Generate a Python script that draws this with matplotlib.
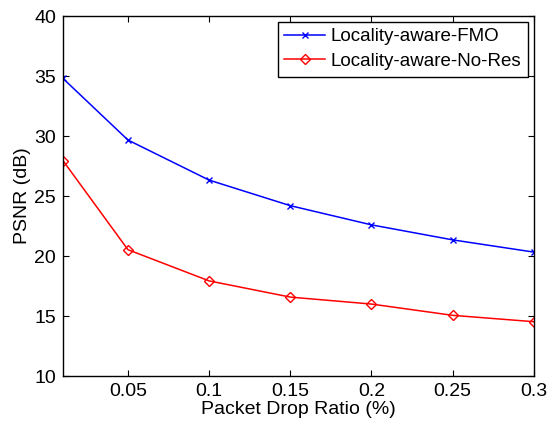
import matplotlib
matplotlib.use('Agg')
import matplotlib.pyplot as plt

plt.rcParams['font.family'] = ['Liberation Sans', 'DejaVu Sans']

drop_ratio = [0.01, 0.05, 0.1, 0.15, 0.2, 0.25, 0.3]
psnr_fmo = [34.8, 29.67, 26.33, 24.2, 22.6, 21.35, 20.33]
psnr_nores = [27.95, 20.53, 17.93, 16.58, 16.0, 15.06, 14.53]

fig = plt.figure(figsize=(5.48, 4.23), dpi=100)
ax = fig.add_axes([0.115, 0.111, 0.859, 0.851])

ax.plot(drop_ratio, psnr_fmo, color='blue', marker='x', markersize=5, linewidth=1.1,
        label='Locality-aware-FMO')
ax.plot(drop_ratio, psnr_nores, color='red', marker='D', markersize=5, linewidth=1.1,
        markerfacecolor='none', label='Locality-aware-No-Res')

ax.set_xlim(0.01, 0.3)
ax.set_ylim(10, 40)
ax.set_xticks([0.05, 0.1, 0.15, 0.2, 0.25, 0.3])
ax.set_xticklabels(['0.05', '0.1', '0.15', '0.2', '0.25', '0.3'])
ax.set_yticks([10, 15, 20, 25, 30, 35, 40])
ax.tick_params(direction='in', top=True, right=True, labelsize=14, length=4, pad=5)
for s in ax.spines.values():
    s.set_linewidth(1)

ax.set_xlabel('Packet Drop Ratio (%)', fontsize=14, labelpad=1)
ax.set_ylabel('PSNR (dB)', fontsize=14, labelpad=2)

leg = ax.legend(loc='upper right', fontsize=13.5, fancybox=False, framealpha=1,
                edgecolor='black', borderaxespad=0.3, handlelength=2.2,
                handletextpad=0.3, borderpad=0.35, labelspacing=0.4)
leg.get_frame().set_linewidth(1)

fig.savefig('out.png', dpi=100)
